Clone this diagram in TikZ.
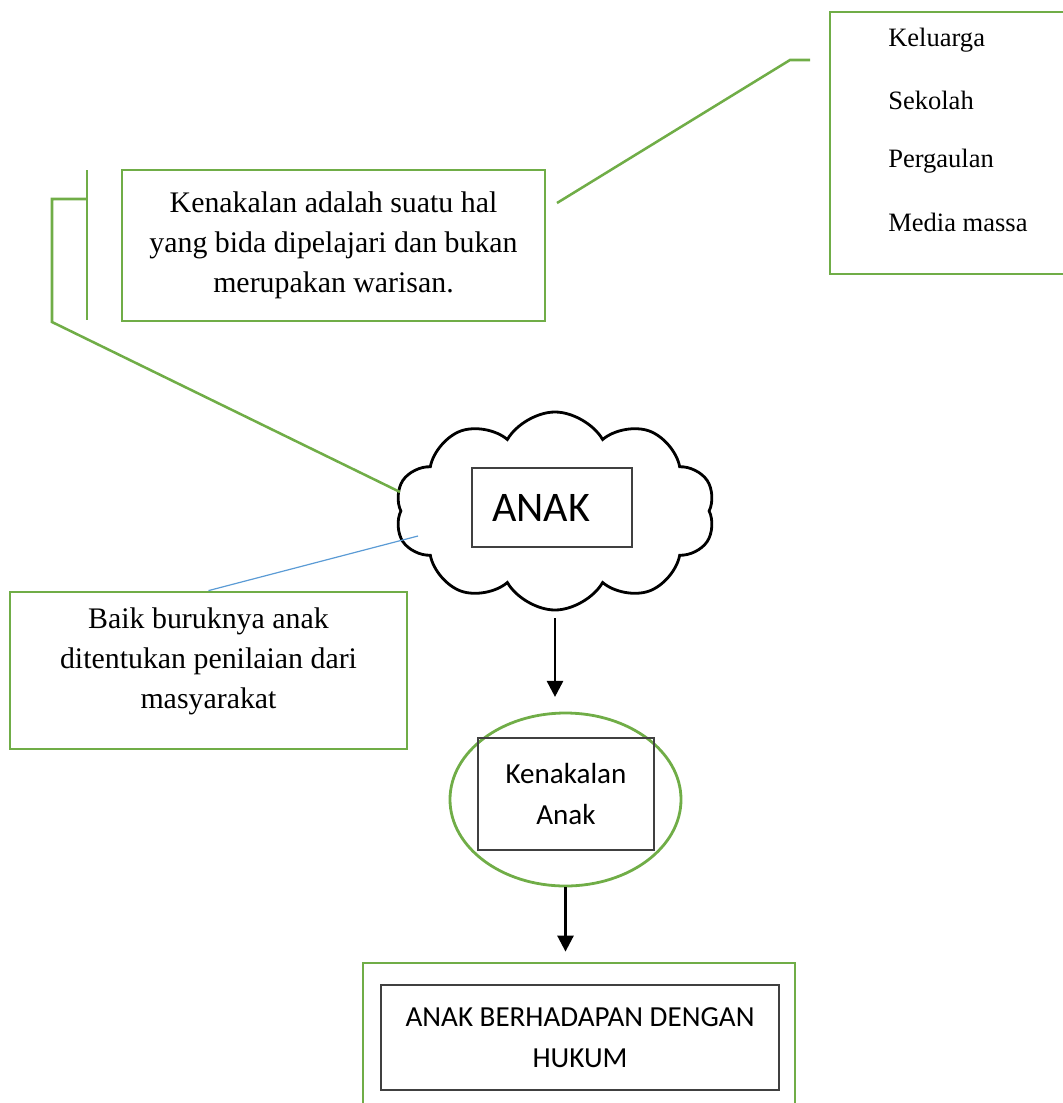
\documentclass[tikz,border=0pt]{standalone}
\usepackage{fontspec}
\setmainfont{Liberation Serif}
\newfontfamily\calibri{Carlito}
\usetikzlibrary{shapes.geometric,shapes.symbols,arrows.meta}
\definecolor{boxgreen}{HTML}{70AD47}
\definecolor{lineblue}{HTML}{5B9BD5}

\begin{document}
\begin{tikzpicture}[x=0.75pt,y=-0.75pt]
	\tikzstyle{every node}=[inner sep=0pt]
	\tikzstyle{greenline}=[draw=boxgreen,line width=2.1pt]
	\tikzstyle{greenbox}=[greenline,rectangle]
	\tikzstyle{blackbox}=[draw=black!75,line width=1pt,rectangle]
	\tikzstyle{serif}=[font=\fontsize{22.4}{30}\selectfont,align=center]
	\tikzstyle{listitem}=[font=\fontsize{19.9}{24}\selectfont,anchor=west]
	\tikzstyle{sans}=[font=\calibri\fontsize{21.8}{30.5}\selectfont,align=center]
	\tikzstyle{callout}=[draw=boxgreen,line width=1.9pt]
	\tikzstyle{flow}=[draw=black,line width=2pt,-{Triangle[width=12pt,length=12pt]}]
	\clip (0,0) rectangle (1063,1103);
	% faktor-faktor (kanan atas)
	\node[greenbox,minimum width=187.5pt,minimum height=196.5pt] (faktor) at (955,143) {};
	\foreach \teks/\y [count=\i] in {Keluarga/40,Sekolah/100,Pergaulan/161,Media massa/222}
		\node[listitem] (faktor\i) at (888,\y) {\teks};
	% kotak teori
	\node[greenbox,serif,minimum width=317.25pt,minimum height=113.25pt] (hal) at (333.5,245.5)
		{Kenakalan adalah suatu hal\\yang bida dipelajari dan bukan\\merupakan warisan.};
	\node[greenbox,minimum width=297.75pt,minimum height=117.75pt] (baik) at (208.5,670.5) {};
	\node[serif] (baiktext) at (208.5,661) {Baik buruknya anak\\ditentukan penilaian dari\\masyarakat};
	% awan anak
	\node[cloud,draw,line width=2.1pt,cloud puffs=10,cloud puff arc=120,cloud ignores aspect,
		minimum width=240pt,minimum height=148.5pt] (awan) at (555,511) {};
	\node[blackbox,font=\calibri\fontsize{31.6}{36}\selectfont,minimum width=120pt,minimum height=59.25pt,
		text width=90pt,inner xsep=15pt,align=left] (anak) at (552,507.5) {ANAK};
	% kenakalan anak
	\node[greenline,ellipse,minimum width=173.25pt,minimum height=129.75pt] (bulat) at (565.5,799.5) {};
	\node[blackbox,sans,minimum width=132pt,minimum height=84pt] (kenakalan) at (566,794) {Kenakalan\\Anak};
	% ABH
	\node[greenbox,minimum width=324pt,minimum height=117.75pt] (abh) at (579,1041.5) {};
	\node[blackbox,sans,minimum width=298.5pt,minimum height=78.75pt] (hukum) at (580,1037.5)
		{ANAK BERHADAPAN DENGAN\\HUKUM};
	% garis callout
	\coordinate (faktorujung) at (810,60);
	\coordinate (faktortekuk) at (790,60);
	\coordinate (halujung) at (557,203);
	\draw[callout] (faktorujung) -- (faktortekuk) -- (halujung);
	\coordinate (palangatas) at (87,170);
	\coordinate (palangbawah) at (87,320);
	\coordinate (siku) at (87,199);
	\coordinate (sikukiri) at (52,199);
	\coordinate (kakikiri) at (52,322);
	\coordinate (awanujung) at (400,492);
	\draw[callout] (palangatas) -- (palangbawah);
	\draw[callout] (siku) -- (sikukiri) -- (kakikiri) -- (awanujung);
	\coordinate (awanbiru) at (418,536);
	\draw[lineblue,line width=0.9pt] (baik.north) -- (awanbiru);
	% panah
	\draw[flow,shorten <=5pt,shorten >=11pt] (awan.south) -- (awan.south |- bulat.north);
	\draw[flow,shorten >=7.5pt] (bulat.south) -- (bulat.south |- abh.north);
\end{tikzpicture}
\end{document}
